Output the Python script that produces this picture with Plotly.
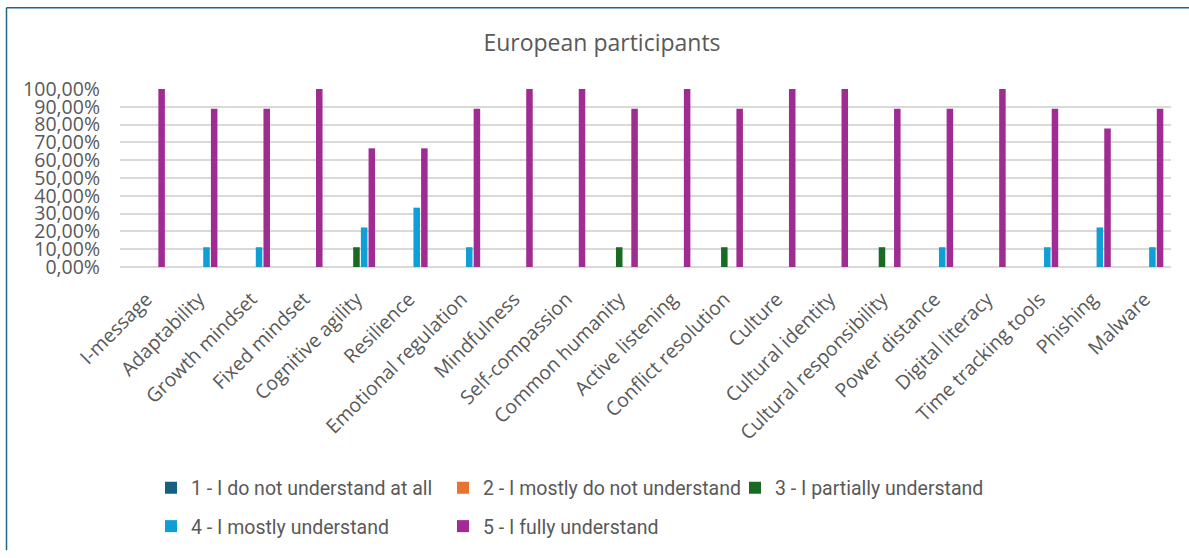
import plotly.graph_objects as go

categories = ["I-message", "Adaptability", "Growth mindset", "Fixed mindset", "Cognitive agility",
              "Resilience", "Emotional regulation", "Mindfulness", "Self-compassion", "Common humanity",
              "Active listening", "Conflict resolution", "Culture", "Cultural identity",
              "Cultural responsibility", "Power distance", "Digital literacy", "Time tracking tools",
              "Phishing", "Malware"]

series_names = ["1 - I do not understand at all", "2 - I mostly do not understand",
                "3 - I partially understand", "4 - I mostly understand", "5 - I fully understand"]

s1 = [0] * 20
s2 = [0] * 20
s3 = [0, 0, 0, 0, 0.1111, 0, 0, 0, 0, 0.1111, 0, 0.1111, 0, 0, 0.1111, 0, 0, 0, 0, 0]
s4 = [0, 0.1111, 0.1111, 0, 0.2222, 0.3333, 0.1111, 0, 0, 0, 0, 0, 0, 0, 0, 0.1111, 0, 0.1111, 0.2222, 0.1111]
s5 = [1.0, 0.8889, 0.8889, 1.0, 0.6667, 0.6667, 0.8889, 1.0, 1.0, 0.8889, 1.0, 0.8889, 1.0, 1.0,
      0.8889, 0.8889, 1.0, 0.8889, 0.7778, 0.8889]

colors = ["#156082", "#E97132", "#196B24", "#0F9ED5", "#A02B93"]
y_ticks = [0, 0.1, 0.2, 0.3, 0.4, 0.5, 0.6, 0.7, 0.8, 0.9, 1.0]

W, H = 1189, 558
L, R, T, B = 120, 18, 89, 288
pw = W - L - R
ph = H - T - B

def px_x(x):
    return (x - L) / pw

def px_y(y):
    return (H - B - y) / ph

fig = go.Figure()
for i, (name, vals) in enumerate(zip(series_names, [s1, s2, s3, s4, s5])):
    fig.add_trace(go.Bar(
        x=categories, y=vals, name=name,
        marker=dict(color=colors[i], line=dict(width=0)),
        legend="legend" if i < 3 else "legend2",
    ))

gray = "#595959"
font_main = "Open Sans, Liberation Sans, sans-serif"
font_leg = "Roboto, Liberation Sans, sans-serif"

fig.update_layout(
    width=W, height=H,
    margin=dict(l=L, r=R, t=T, b=B),
    paper_bgcolor="white", plot_bgcolor="white",
    separators=",.",
    barmode="group", bargap=0.27, bargroupgap=0.15,
    title=dict(text="European participants", x=602 / W, xanchor="center",
               y=1 - 43 / H, yanchor="middle",
               font=dict(family=font_main, size=23, color=gray)),
    xaxis=dict(tickangle=-45, tickfont=dict(family=font_main, size=19.5, color=gray),
               showgrid=False, showline=False, ticks="", automargin=False,
               ticklabelstandoff=16),
    yaxis=dict(range=[0, 1.0], tickvals=y_ticks, tickformat=".2%",
               tickfont=dict(family=font_main, size=19.5, color=gray),
               showgrid=True, gridcolor="#D9D9D9", gridwidth=1.5,
               zeroline=True, zerolinecolor="#D9D9D9", zerolinewidth=1.5,
               showline=False, ticks="", automargin=False, ticklabelstandoff=19),
    legend=dict(orientation="h", x=px_x(151), xanchor="left", y=px_y(475), yanchor="top",
                entrywidth=247, entrywidthmode="pixels", itemwidth=30,
                font=dict(family=font_leg, size=19.5, color=gray),
                bgcolor="rgba(0,0,0,0)", traceorder="normal"),
    legend2=dict(orientation="h", x=px_x(151), xanchor="left", y=px_y(514), yanchor="top",
                 entrywidth=247, entrywidthmode="pixels", itemwidth=30,
                 font=dict(family=font_leg, size=19.5, color=gray),
                 bgcolor="rgba(0,0,0,0)", traceorder="normal"),
    shapes=[
        dict(type="line", xref="paper", yref="paper", x0=px_x(6.5), x1=px_x(1189), y0=px_y(6.5), y1=px_y(6.5),
             line=dict(color="#1F6391", width=1.5)),
        dict(type="line", xref="paper", yref="paper", x0=px_x(6.5), x1=px_x(6.5), y0=px_y(6.5), y1=px_y(558),
             line=dict(color="#1F6391", width=1.5)),
    ],
)

fig.write_html("out.html", config={"displayModeBar": False},
               post_script="document.body.style.margin='0px';document.body.style.overflow='hidden';")
